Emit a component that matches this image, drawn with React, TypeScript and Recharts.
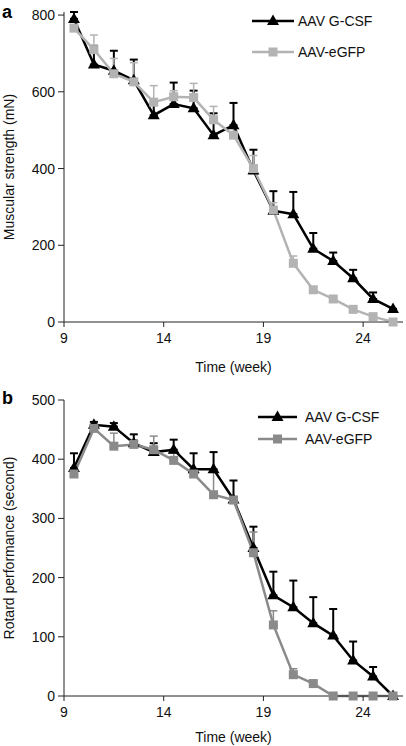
import React from "react";
import { LineChart, Line, XAxis, YAxis, ErrorBar, Legend } from "recharts";

const weeks = [9.5, 10.5, 11.5, 12.5, 13.5, 14.5, 15.5, 16.5, 17.5, 18.5, 19.5, 20.5, 21.5, 22.5, 23.5, 24.5, 25.5];
const weekTicks = [9, 14, 19, 24];

// panel a: muscular strength (mN), mean + upper SEM
const strengthGcsf = [790, 671, 655, 630, 539, 568, 557, 487, 513, 395, 290, 281, 191, 159, 114, 60, 34];
const strengthGcsfSem = [18, 49, 52, 54, 32, 56, 46, 57, 58, 54, 51, 58, 41, 22, 22, 17, 0];
const strengthEgfp = [766, 710, 647, 626, 573, 587, 585, 527, 487, 400, 292, 153, 84, 60, 33, 14, 0];
const strengthEgfpSem = [8, 38, 40, 50, 43, 16, 37, 35, 18, 34, 19, 19, 7, 5, 3, 3, 0];
const strengthTicks = [0, 200, 400, 600, 800];

// panel b: rotarod performance (second)
const rotarodGcsf = [385, 458, 455, 427, 412, 416, 383, 383, 332, 250, 170, 150, 123, 102, 60, 33, 0];
const rotarodGcsfSem = [25, 5, 6, 15, 15, 17, 27, 29, 32, 36, 40, 45, 44, 45, 32, 16, 0];
const rotarodEgfp = [375, 452, 422, 425, 416, 398, 375, 340, 331, 242, 120, 36, 21, 0, 0, 0, 0];
const rotarodEgfpSem = [8, 8, 22, 8, 23, 12, 8, 40, 6, 35, 24, 10, 5, 0, 0, 0, 0];
const rotarodTicks = [0, 100, 200, 300, 400, 500];

const seriesNames = ["AAV G-CSF", "AAV-eGFP"];

const FONT = "'Liberation Sans', Arial, sans-serif";
const AXIS = "#222";

function buildData(g: number[], gSem: number[], e: number[], eSem: number[]) {
  return weeks.map((w, i) => ({
    week: w,
    g: g[i],
    gErr: [0, gSem[i]],
    e: e[i],
    eErr: [0, eSem[i]],
  }));
}

const strengthData = buildData(strengthGcsf, strengthGcsfSem, strengthEgfp, strengthEgfpSem);
const rotarodData = buildData(rotarodGcsf, rotarodGcsfSem, rotarodEgfp, rotarodEgfpSem);

const triangleDot = (props: any) => {
  const { cx, cy, index } = props;
  if (cx == null || cy == null) return <g key={`t${index}`} />;
  return <path key={`t${index}`} d={`M${cx},${cy - 6.5}L${cx + 6},${cy + 4}L${cx - 6},${cy + 4}Z`} fill="#000" />;
};

const squareDot = (color: string) => (props: any) => {
  const { cx, cy, index } = props;
  if (cx == null || cy == null) return <g key={`s${index}`} />;
  return <rect key={`s${index}`} x={cx - 4.5} y={cy - 4.5} width={9} height={9} fill={color} />;
};

function LegendBox({ gray, rowGap, lineLen, textGap }: { gray: string; rowGap: number; lineLen: number; textGap: number }) {
  const mid = lineLen / 2;
  return (
    <svg width={160} height={rowGap + 20} style={{ display: "block" }}>
      <line x1={0} x2={lineLen} y1={10} y2={10} stroke="#000" strokeWidth={2.5} />
      <path d={`M${mid},${3.5}L${mid + 6},${14}L${mid - 6},${14}Z`} fill="#000" />
      <text x={lineLen + textGap} y={15} fontSize={14} fontFamily={FONT} fill="#111">{seriesNames[0]}</text>
      <line x1={0} x2={lineLen} y1={10 + rowGap} y2={10 + rowGap} stroke={gray} strokeWidth={2.5} />
      <rect x={mid - 4.5} y={5.5 + rowGap} width={9} height={9} fill={gray} />
      <text x={lineLen + textGap} y={15 + rowGap} fontSize={14} fontFamily={FONT} fill="#111">{seriesNames[1]}</text>
    </svg>
  );
}

type PanelProps = {
  data: any[];
  height: number;
  top: number;
  xAxisHeight: number;
  xLabelOffset: number;
  yMax: number;
  yTicks: number[];
  yLabel: string;
  gray: string;
  letter: string;
  letterTop: number;
  legendPos: { left: number; top: number };
  legendGap: number;
  legendLine: number;
  legendTextGap: number;
};

function Panel(p: PanelProps) {
  const tickStyle = { fontSize: 14, fontFamily: FONT, fill: "#111" };
  return (
    <div style={{ position: "relative", width: 406, height: p.height }}>
      <LineChart width={406} height={p.height} data={p.data} margin={{ top: p.top, right: 3, bottom: 0, left: 0 }}>
        <XAxis
          dataKey="week"
          type="number"
          domain={[9, 26]}
          ticks={weekTicks}
          allowDecimals={false}
          height={p.xAxisHeight}
          stroke={AXIS}
          tickSize={5}
          tickMargin={6}
          tick={tickStyle}
          label={{ value: "Time (week)", position: "insideBottom", offset: p.xLabelOffset, style: { fontSize: 14, fontFamily: FONT, fill: "#111" } }}
        />
        <YAxis
          type="number"
          domain={[0, p.yMax]}
          ticks={p.yTicks}
          width={64}
          stroke={AXIS}
          tickSize={6}
          tickMargin={3}
          tick={tickStyle}
          label={{ value: p.yLabel, angle: -90, position: "insideLeft", offset: 9, style: { textAnchor: "middle", fontSize: 14, fontFamily: FONT, fill: "#111" } }}
        />
        <Legend
          layout="vertical"
          align="center"
          verticalAlign="middle"
          wrapperStyle={{ left: p.legendPos.left, top: p.legendPos.top, width: 160 }}
          content={() => <LegendBox gray={p.gray} rowGap={p.legendGap} lineLen={p.legendLine} textGap={p.legendTextGap} />}
        />
        {/* error bars underneath the lines */}
        <Line dataKey="g" stroke="none" dot={false} activeDot={false} legendType="none" isAnimationActive={false}>
          <ErrorBar dataKey="gErr" direction="y" width={4} stroke="#000" strokeWidth={2} isAnimationActive={false} />
        </Line>
        <Line dataKey="e" stroke="none" dot={false} activeDot={false} legendType="none" isAnimationActive={false}>
          <ErrorBar dataKey="eErr" direction="y" width={4} stroke={p.gray} strokeWidth={1.5} isAnimationActive={false} />
        </Line>
        <Line dataKey="g" name={seriesNames[0]} type="linear" stroke="#000" strokeWidth={2.5} dot={triangleDot} activeDot={false} isAnimationActive={false} />
        <Line dataKey="e" name={seriesNames[1]} type="linear" stroke={p.gray} strokeWidth={2.5} dot={squareDot(p.gray)} activeDot={false} isAnimationActive={false} />
      </LineChart>
      <div
        style={{ position: "absolute", left: 2, top: p.letterTop, fontFamily: FONT, fontWeight: "bold", fontSize: 18, lineHeight: "20px", color: "#000" }}
      >
        {p.letter}
      </div>
    </div>
  );
}

export default function App() {
  return (
    <div style={{ position: "absolute", left: 0, top: 0, width: 406, height: 746, background: "#fff" }}>
      <Panel
        data={strengthData}
        height={380}
        top={12}
        xAxisHeight={58}
        xLabelOffset={8}
        yMax={800}
        yTicks={strengthTicks}
        yLabel="Muscular strength (mN)"
        gray="#b3b3b3"
        letter="a"
        letterTop={2}
        legendPos={{ left: 252, top: 11 }}
        legendGap={31}
        legendLine={42}
        legendTextGap={4}
      />
      <Panel
        data={rotarodData}
        height={366}
        top={20}
        xAxisHeight={50}
        xLabelOffset={4}
        yMax={500}
        yTicks={rotarodTicks}
        yLabel="Rotard performance (second)"
        gray="#8a8a8a"
        letter="b"
        letterTop={8}
        legendPos={{ left: 258, top: 27 }}
        legendGap={22}
        legendLine={39}
        legendTextGap={8}
      />
    </div>
  );
}
